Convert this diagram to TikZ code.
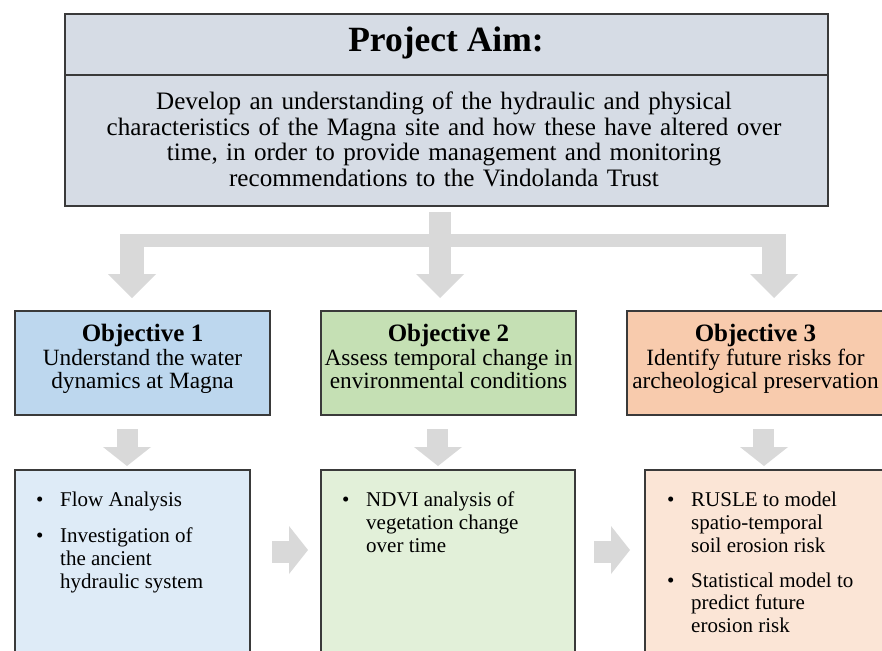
\documentclass[tikz,border=0pt]{standalone}
\usepackage{fontspec}
\setmainfont{Liberation Serif}
\definecolor{edge}{HTML}{3A3A3A}
\definecolor{aimfill}{HTML}{D6DCE5}
\definecolor{obA}{HTML}{BDD7EE}
\definecolor{obB}{HTML}{C5E0B4}
\definecolor{obC}{HTML}{F8CBAD}
\definecolor{lsA}{HTML}{DEEBF7}
\definecolor{lsB}{HTML}{E2F0D9}
\definecolor{lsC}{HTML}{FBE5D6}
\definecolor{arrowgray}{HTML}{D9D9D9}
\newcommand\bitem[1]{\makebox[24pt][l]{\textbullet}\parbox[t]{200pt}{#1}}
\newcommand\objtitle[1]{{\bfseries\fontsize{25}{22.8}\selectfont\strut #1}}
\begin{document}
\begin{tikzpicture}[x=1pt,y=-1pt,
  boxstyle/.style={draw=edge, line width=1.4pt, inner sep=0pt, outer sep=0pt, anchor=north west},
  objtext/.style={align=center, inner sep=0pt, font=\fontsize{23.3}{22.8}\selectfont},
  listtext/.style={anchor=base west, inner sep=0pt, font=\fontsize{21}{22.8}\selectfont},
  blockarrow/.style={fill=arrowgray, draw=none}]
\useasboundingbox (0,0) rectangle (882,650);
\clip (0,0) rectangle (882,650);

% project aim
\node[boxstyle, fill=aimfill, minimum width=763pt, minimum height=61pt] (aimhead) at (65,14) {};
\node[boxstyle, fill=aimfill, minimum width=763pt, minimum height=131pt] (aimbody) at (65,75) {};
\node[inner sep=0pt, font=\bfseries\fontsize{35.5}{40}\selectfont] (aimtitle) at (446,43) {Project Aim:};
\node[inner sep=0pt, text width=760pt, align=center, font=\fontsize{25.1}{25.5}\selectfont] (aimtext) at (444,139.5)
 {Develop an understanding of the hydraulic and physical\\
  characteristics of the Magna site and how these have altered over\\
  time, in order to provide management and monitoring\\
  recommendations to the Vindolanda Trust};

% branching arrow
\fill[blockarrow] (120,234) rectangle (786,247);
\fill[blockarrow] (429,212) rectangle (451,275);
\fill[blockarrow] (120,234) rectangle (144,275);
\fill[blockarrow] (762,234) rectangle (786,275);
\fill[blockarrow] (108,274) -- (156,274) -- (132,298) -- cycle;
\fill[blockarrow] (416,274) -- (464,274) -- (440,298) -- cycle;
\fill[blockarrow] (750,274) -- (798,274) -- (774,298) -- cycle;

% objectives
\node[boxstyle, fill=obA, minimum width=255pt, minimum height=104pt] (obj1) at (15,311) {};
\node[boxstyle, fill=obB, minimum width=255pt, minimum height=104pt] (obj2) at (321,311) {};
\node[boxstyle, fill=obC, minimum width=262pt, minimum height=104pt] (obj3) at (627,311) {};
\node[objtext] (ot1) at (142.5,360) {\objtitle{Objective 1}\\Understand the water\\dynamics at Magna\strut};
\node[objtext] (ot2) at (448.5,360) {\objtitle{Objective 2}\\Assess temporal change in\\environmental conditions\strut};
\node[objtext] (ot3) at (755.5,360) {\objtitle{Objective 3}\\Identify future risks for\\archeological preservation\strut};

% small down arrows
\fill[blockarrow] (117,429) rectangle (138,448);
\fill[blockarrow] (103,447) -- (151,447) -- (127,466) -- cycle;
\fill[blockarrow] (427,429) rectangle (448,448);
\fill[blockarrow] (414,447) -- (462,447) -- (438,466) -- cycle;
\fill[blockarrow] (753,429) rectangle (774,448);
\fill[blockarrow] (740,447) -- (788,447) -- (764,466) -- cycle;

% method boxes
\node[boxstyle, fill=lsA, minimum width=235pt, minimum height=200pt] (box1) at (15,470) {};
\node[boxstyle, fill=lsB, minimum width=254pt, minimum height=200pt] (box2) at (321,470) {};
\node[boxstyle, fill=lsC, minimum width=250pt, minimum height=200pt] (box3) at (645,470) {};

\node[listtext] (item1a) at (36,506.5) {\bitem{Flow Analysis}};
\node[listtext] (item1b) at (36,542.5) {\bitem{Investigation of\\the ancient\\hydraulic system}};
\node[listtext] (item2a) at (342,506.5) {\bitem{NDVI analysis of\\vegetation change\\over time}};
\node[listtext] (item3a) at (667,506.5) {\bitem{RUSLE to model\\spatio-temporal\\soil erosion risk}};
\node[listtext] (item3b) at (667,587) {\bitem{Statistical model to\\predict future\\erosion risk}};

% side arrows
\fill[blockarrow] (272,541) rectangle (290,563);
\fill[blockarrow] (289,526) -- (289,574) -- (308,550) -- cycle;
\fill[blockarrow] (594,541) rectangle (612,563);
\fill[blockarrow] (611,526) -- (611,574) -- (630,550) -- cycle;
\end{tikzpicture}
\end{document}
